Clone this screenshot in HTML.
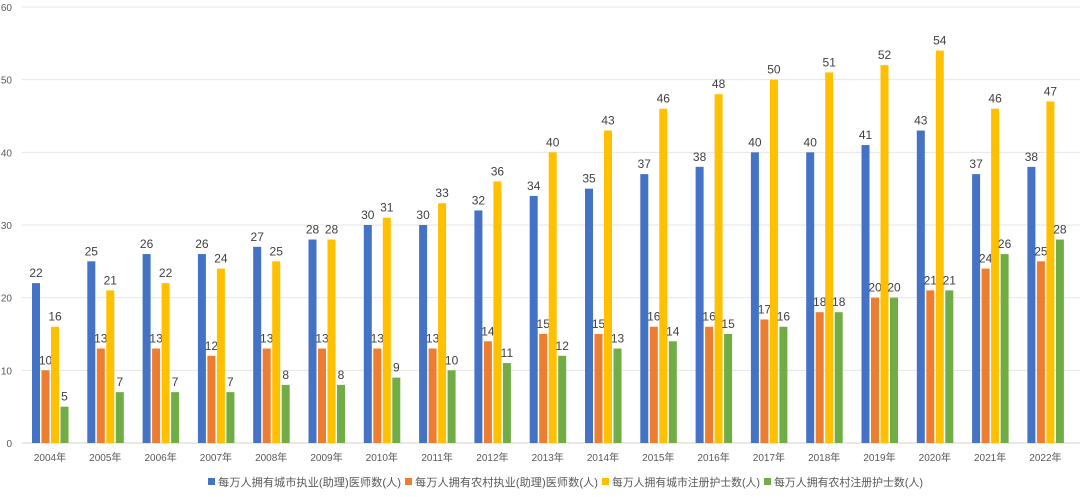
<!DOCTYPE html>
<html><head><meta charset="utf-8"><style>
body{margin:0;background:#fff;}
svg{display:block;font-family:"Liberation Sans","Noto Sans CJK SC",sans-serif;}
</style></head><body>
<svg id="chart" width="1080" height="497"></svg>
<script>
const categories=["2004年","2005年","2006年","2007年","2008年","2009年","2010年","2011年","2012年","2013年","2014年","2015年","2016年","2017年","2018年","2019年","2020年","2021年","2022年"];
const urbanDoctors=[22,25,26,26,27,28,30,30,32,34,35,37,38,40,40,41,43,37,38];
const ruralDoctors=[10,13,13,12,13,13,13,13,14,15,15,16,16,17,18,20,21,24,25];
const urbanNurses=[16,21,22,24,25,28,31,33,36,40,43,46,48,50,51,52,54,46,47];
const ruralNurses=[5,7,7,7,8,8,9,10,11,12,13,14,15,16,18,20,21,26,28];
const yTicks=[0,10,20,30,40,50,60];
const seriesNames=["每万人拥有城市执业(助理)医师数(人)","每万人拥有农村执业(助理)医师数(人)","每万人拥有城市注册护士数(人)","每万人拥有农村注册护士数(人)"];
const series=[urbanDoctors,ruralDoctors,urbanNurses,ruralNurses];
const colors=["#4472c4","#ed7d31","#ffc000","#70ad47"];
const svg=document.getElementById('chart');
const NS="http://www.w3.org/2000/svg";
const y0=443,yTop=7,yMax=60;
const y=v=>y0-(y0-yTop)*v/yMax;
const x0=22,step=55.3,first=50;
const xc=i=>first+i*step;
function mk(t,a,txt){const e=document.createElementNS(NS,t);for(const k in a)e.setAttribute(k,a[k]);if(txt!==undefined)e.textContent=txt;svg.appendChild(e);return e;}
yTicks.forEach(t=>{
 const l=mk('line',{x1:x0,x2:1080,y1:y(t),y2:y(t),stroke:t===0?'#d0d0d0':'#e6e6e6','stroke-width':1});
 
 
 const tx=mk('text',{x:12,y:y(t)+4,'font-size':10,fill:'#595959','text-anchor':'end'},t);
 
 
});
const bw=8,bs=9.5;
categories.forEach((c,i)=>{
 series.forEach((s,k)=>{
  const bx=xc(i)-18+k*bs;
  const r=mk('rect',{x:bx,y:y(s[i]),width:bw,height:y0-y(s[i]),fill:colors[k]});
  
  
  const t=mk('text',{x:bx+bw/2,y:y(s[i])-6,'font-size':12,fill:'#404040','text-anchor':'middle'},s[i]);
  
  
 });
 const xl=mk('text',{x:xc(i),y:461,'font-size':10,fill:'#595959','text-anchor':'middle'},c);
 
 
});
let lx=208;
const widths=[197,197,162,163];
seriesNames.forEach((n,k)=>{
 const r=mk('rect',{x:lx,y:478,width:7,height:7,fill:colors[k]});
 
 
 const t=mk('text',{x:lx+10,y:486,'font-size':11,fill:'#595959',textLength:widths[k]-14,lengthAdjust:'spacingAndGlyphs'},n);
 
 
 lx+=widths[k];
});
</script>
</body></html>
